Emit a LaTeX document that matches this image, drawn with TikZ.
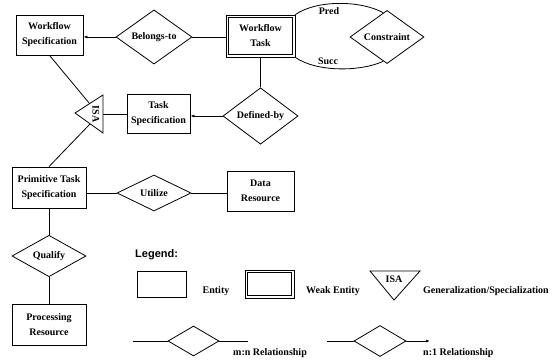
\documentclass[tikz,border=0pt]{standalone}
\usepackage{fontspec}
\setmainfont{Liberation Serif}
\newfontfamily\legfont{Liberation Sans}
\usetikzlibrary{shapes.geometric,arrows.meta,calc}
\begin{document}
\begin{tikzpicture}[x=1pt,y=-1pt,
 lbl/.style={font=\bfseries\fontsize{10}{15}\selectfont, align=center, inner sep=0pt},
 ent/.style={lbl, draw, rectangle, line width=0.8pt},
 inner/.style={line width=0.8pt},
 rel/.style={lbl, draw, diamond, line width=0.8pt},
 conn/.style={line width=0.8pt},
 none/.style={conn, -{Latex[length=4pt,width=3pt]}},
 ntxt/.style={font=\bfseries\fontsize{10}{11}\selectfont, inner sep=0pt},
]
\useasboundingbox (0,0) rectangle (553,362);
\fill[white] (0,0) rectangle (553,362);

% entities
\node[ent, minimum width=67pt, minimum height=40pt] (wfs) at (49.5,35) {Workflow\\Specification};
\node[ent, minimum width=69pt, minimum height=42pt] (wft) at (260.5,36) {Workflow\\Task};
\draw[inner] ([shift={(3,3)}]wft.north west) rectangle ([shift={(-3,-3)}]wft.south east);
\node[ent, minimum width=63pt, minimum height=39pt] (ts) at (158.5,114) {Task\\Specification};
\node[ent, minimum width=74pt, minimum height=41pt] (pts) at (49,187.5) {Primitive Task\\Specification};
\node[ent, minimum width=67pt, minimum height=40pt] (dr) at (260.5,191) {Data\\Resource};
\node[ent, minimum width=74pt, minimum height=41pt] (pr) at (49,324.5) {Processing\\Resource};

% relationships
\node[rel, minimum width=76pt, minimum height=37pt] (bel) at (154,37) {Belongs-to};
\node[rel, minimum width=74pt, minimum height=37pt] (con) at (387,37) {Constraint};
\node[rel, minimum width=75pt, minimum height=37pt] (def) at (260.5,116) {Defined-by};
\node[rel, minimum width=74pt, minimum height=36pt] (uti) at (154,193) {Utilize};
\node[rel, minimum width=74pt, minimum height=36pt] (qua) at (49,256) {Qualify};

% ISA triangle
\draw[conn] (75,113) -- (103,95) -- (103,133) -- cycle;
\node[lbl, rotate=-90] (isa) at (96,114) {ISA};
\coordinate (isaup) at (89.5,103.5);
\coordinate (isalo) at (90,124);
\coordinate (isar) at (103,114);

% connectors
\draw[none] (bel.west) -- (wfs.east |- bel.west);
\draw[conn] (bel.east) -- (wft.west |- bel.east);
\draw[conn] (wft.south) -- (def.north);
\draw[none] (def.west) -- (ts.east |- def.west);
\draw[conn] (ts.west |- isar) -- (isar);
\draw[conn] (wfs.south) -- (isaup);
\draw[conn] (isalo) -- (pts.north);
\draw[conn] (pts.east |- uti.west) -- (uti.west);
\draw[conn] (uti.east) -- (dr.west |- uti.east);
\draw[conn] (pts.south) -- (qua.north);
\draw[conn] (qua.south) -- (pr.north);

% Pred / Succ
\coordinate (conU) at ($(con.west)!0.9!(con.north)$);
\coordinate (conD) at ($(con.west)!0.9!(con.south)$);
\draw[conn] (wft.north east) .. controls (316,0) and (360,0) .. (conU);
\draw[conn] (wft.south east) .. controls (316,72) and (360,72) .. (conD);
\node[ntxt] (pred) at (329,11) {Pred};
\node[ntxt] (succ) at (328,61) {Succ};

% Legend
\node[font=\legfont\bfseries\fontsize{11}{12}\selectfont, anchor=west, inner sep=0pt] (leg) at (135,255) {Legend:};
\node[ent, minimum width=49pt, minimum height=26pt] (lent) at (161.5,284) {};
\node[ntxt] (lentt) at (216,291) {Entity};
\node[ent, minimum width=49pt, minimum height=28pt] (lweak) at (269.5,284) {};
\draw[inner] ([shift={(3,3)}]lweak.north west) rectangle ([shift={(-3,-3)}]lweak.south east);
\node[ntxt] (lweakt) at (333,291) {Weak Entity};
\draw[conn] (370,271) -- (420,271) -- (394,300) -- cycle;
\node[ntxt] (lisa) at (394,279) {ISA};
\node[ntxt, anchor=west] (lisat) at (423,291) {Generalization/Specialization};

\node[rel, minimum width=51pt, minimum height=30pt] (lmn) at (193.5,341) {};
\coordinate (lmnL) at (133,341);
\coordinate (lmnR) at (248,341);
\draw[conn] (lmnL) -- (lmn.west);
\draw[conn] (lmn.east) -- (lmnR);
\node[ntxt, anchor=west] (lmnt) at (233,353) {m:n Relationship};

\node[rel, minimum width=52pt, minimum height=31pt] (ln1) at (380,341) {};
\coordinate (ln1L) at (327,341);
\coordinate (ln1R) at (430,341);
\draw[conn] (ln1L) -- (ln1.west);
\draw[none] (ln1.east) -- (ln1R);
\node[ntxt, anchor=west] (ln1t) at (423,353) {n:1 Relationship};
\end{tikzpicture}
\end{document}
